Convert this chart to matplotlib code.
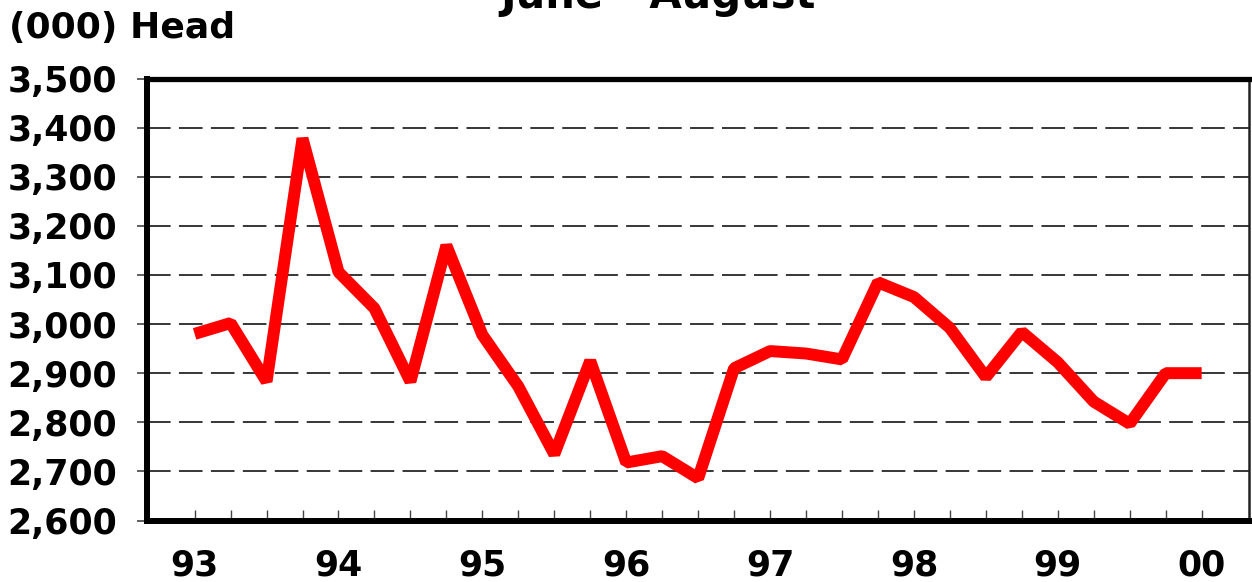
import matplotlib
matplotlib.use("Agg")
import matplotlib.pyplot as plt
from matplotlib.ticker import FuncFormatter, FixedLocator
import numpy as np

# ---- data (quarterly, 1993 Q1 .. 2000 Q1) ----
start_year = 1993
quarter_values = [2980, 3002, 2883, 3378, 3106, 3032, 2883, 3160, 2978, 2873,
                  2735, 2925, 2718, 2731, 2686, 2910, 2945, 2940, 2928, 3085,
                  3055, 2992, 2892, 2984, 2922, 2842, 2797, 2900, 2900]
year_ticks = [1993, 1994, 1995, 1996, 1997, 1998, 1999, 2000]
year_labels = ['93', '94', '95', '96', '97', '98', '99', '00']
y_ticks = [2600, 2700, 2800, 2900, 3000, 3100, 3200, 3300, 3400, 3500]

x = start_year + np.arange(len(quarter_values)) * 0.25

plt.rcParams['lines.scale_dashes'] = False
plt.rcParams['font.family'] = ['DejaVu Sans']

fig = plt.figure(figsize=(12.52, 5.82), dpi=100)
W, H = 1252, 582
ax = fig.add_axes([147 / W, 1 - 520.5 / H, (1249 - 147) / W, (520.5 - 78.5) / H])

ax.plot(x, quarter_values, color='#FF0000', linewidth=8.6,
        solid_joinstyle='bevel', solid_capstyle='butt', zorder=3)

ax.set_xlim(1992.669, 2000.329)
ax.set_ylim(2600, 3500)

ax.set_yticks(y_ticks)
ax.yaxis.set_major_formatter(FuncFormatter(lambda v, p: f"{int(v):,}"))
ax.set_xticks(year_ticks)
ax.set_xticklabels(year_labels)
ax.xaxis.set_minor_locator(FixedLocator(x))

for v in y_ticks[1:-1]:
    ax.axhline(v, color='black', linewidth=1.1, linestyle=(0, (17, 6)), zorder=1)

ax.tick_params(axis='y', direction='out', length=7, width=1.2, color='#444444',
               pad=14.5, labelsize=25)
ax.tick_params(axis='x', which='both', direction='in', length=8, width=1.0,
               color='#444444', pad=20, labelsize=25)
for lab in ax.get_xticklabels() + ax.get_yticklabels():
    lab.set_fontweight('bold')

ax.spines['left'].set_linewidth(4.3)
ax.spines['bottom'].set_linewidth(4.3)
ax.spines['top'].set_linewidth(3.8)
ax.spines['right'].set_linewidth(1.8)
ax.spines['right'].set_color('#222222')

fig.text(9 / W, 1 - 11 / H, '(000) Head', fontsize=26, fontweight='bold',
         ha='left', va='top')
fig.text(658 / W, 1 - 8 / H, 'June - August', fontsize=30, fontweight='bold',
         ha='center', va='baseline')

fig.savefig('out.png', dpi=100)
